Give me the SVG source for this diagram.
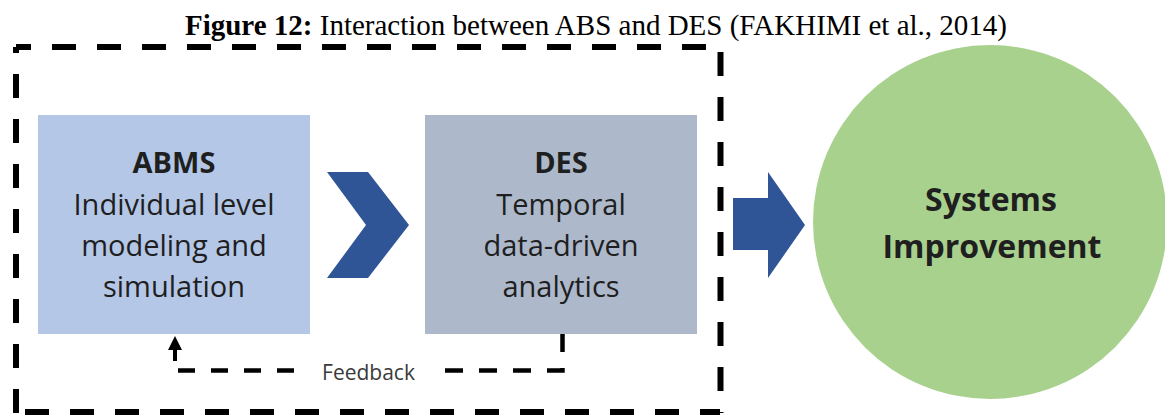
<svg xmlns="http://www.w3.org/2000/svg" width="1165" height="415" viewBox="0 0 1165 415">
  <style>
    .title { font-family: "Liberation Serif", "Times New Roman", serif; font-size: 29px; fill: #000; }
    .lbl { font-family: "Open Sans", "Liberation Sans", sans-serif; font-size: 29px; fill: #1f1f1f; text-anchor: middle; }
    .big { font-size: 32px; }
    .bold { font-weight: bold; }
    .fb { font-family: "Open Sans", "Liberation Sans", sans-serif; font-size: 21px; fill: #3a3a3a; text-anchor: middle; }
    .frame { fill: none; stroke: #000; stroke-width: 6; stroke-dasharray: 24 21; }
    .loop { fill: none; stroke: #000; stroke-width: 4.5; }
  </style>

  <rect width="1165" height="415" fill="#fff"/>

  <text class="title" x="596" y="35" text-anchor="middle"><tspan font-weight="bold">Figure 12:</tspan> Interaction between ABS and DES (FAKHIMI et al., 2014)</text>

  <!-- dashed boundary around the two modelling stages, one side at a time -->
  <g id="boundary">
    <path class="frame" d="M16,413 V47"/>
    <path class="frame" d="M16,47 H720" stroke-dashoffset="9"/>
    <path class="frame" d="M720.5,47 V413" stroke-dashoffset="40"/>
    <path class="frame" d="M16,412 H720" stroke-dashoffset="36"/>
  </g>

  <g id="abms">
    <rect x="38" y="115" width="272" height="219" fill="#b4c7e7"/>
    <text class="lbl bold" x="174" y="173">ABMS</text>
    <text class="lbl" x="174" y="215">Individual level</text>
    <text class="lbl" x="174" y="256">modeling and</text>
    <text class="lbl" x="174" y="297">simulation</text>
  </g>

  <g id="des">
    <rect x="425" y="115" width="272" height="219" fill="#adb9ca"/>
    <text class="lbl bold" x="561" y="173">DES</text>
    <text class="lbl" x="561" y="215">Temporal</text>
    <text class="lbl" x="561" y="256">data-driven</text>
    <text class="lbl" x="561" y="297">analytics</text>
  </g>

  <g id="systems-improvement">
    <circle cx="990" cy="222" r="177" fill="#a9d18e"/>
    <text class="lbl big bold" x="991" y="211">Systems</text>
    <text class="lbl big bold" x="992" y="258">Improvement</text>
  </g>

  <g id="connectors">
    <!-- chevron between ABMS and DES -->
    <path d="M327,172 L368,172 L409,225 L368,278 L327,278 L366,225 Z" fill="#2f5597"/>
    <!-- block arrow toward systems improvement -->
    <path d="M733,198 H768 V172 L805,225 L768,278 V250 H733 Z" fill="#2f5597"/>
    <!-- feedback loop from DES back to ABMS -->
    <path class="loop" d="M562.5,334 V370.5 H444" stroke-dasharray="18 16"/>
    <path class="loop" d="M178,370.5 H297" stroke-dasharray="17 16"/>
    <path d="M175,361 V348" stroke="#000" stroke-width="4" fill="none"/>
    <path d="M168,350 L175,336 L182,350 Z" fill="#000"/>
    <text class="fb" x="368.5" y="380">Feedback</text>
  </g>
</svg>
